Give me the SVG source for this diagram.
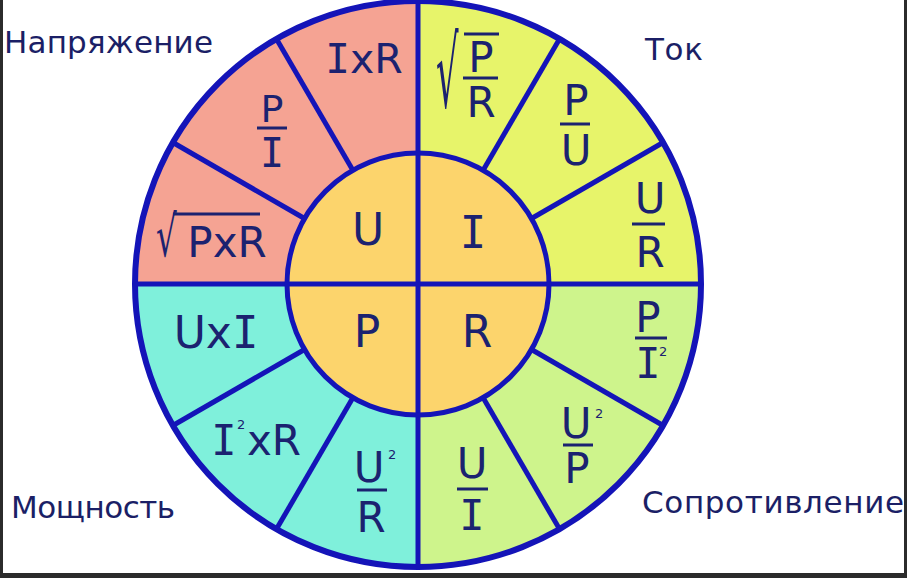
<svg xmlns="http://www.w3.org/2000/svg" width="907" height="578" viewBox="0 0 907 578">
<style>
.t{font-family:"DejaVu Sans","Liberation Sans",sans-serif;fill:#1b2270;text-anchor:middle}
.i{font-family:"DejaVu Sans Mono","Liberation Mono",monospace}
.lbl{font-family:"DejaVu Sans","Liberation Sans",sans-serif;fill:#1b1f66;font-size:31px}
.big{font-size:44px}
.fr{font-size:42px}
.sup{font-family:"DejaVu Sans","Liberation Sans",sans-serif;fill:#1b2270;font-size:13px}
.ln{stroke:#1414b8;stroke-width:5;fill:none;stroke-linecap:butt}
.bar{stroke:#1b2270;stroke-width:3}
.rad{font-family:"DejaVu Sans","Liberation Sans",sans-serif;fill:#1b2270;font-size:57px}
</style>
<rect x="0" y="0" width="907" height="578" fill="#ffffff"/>
<g id="wheel">
<path d="M418,284 L135,284 A283,283 0 0 1 418,1 Z" fill="#f5a393"/>
<path d="M418,284 L418,1 A283,283 0 0 1 701,284 Z" fill="#e7f46a"/>
<path d="M418,284 L701,284 A283,283 0 0 1 418,567 Z" fill="#cef48c"/>
<path d="M418,284 L418,567 A283,283 0 0 1 135,284 Z" fill="#7ff0db"/>
<circle cx="418" cy="284" r="131" fill="#fcd46c"/>
</g>
<g id="connectors" class="ln">
<line x1="353" y1="170.5" x2="276.5" y2="38.9"/>
<line x1="304.5" y1="218.5" x2="172.9" y2="142.5"/>
<line x1="483" y1="170.5" x2="559.5" y2="38.9"/>
<line x1="531.5" y1="218.5" x2="663.1" y2="142.5"/>
<line x1="483" y1="397.5" x2="559.5" y2="529.1"/>
<line x1="531.5" y1="349.5" x2="663.1" y2="425.5"/>
<line x1="353" y1="397.5" x2="276.5" y2="529.1"/>
<line x1="304.5" y1="349.5" x2="172.9" y2="425.5"/>
<line x1="418" y1="1" x2="418" y2="567"/>
<line x1="135" y1="284" x2="701" y2="284"/>
<circle cx="418" cy="284" r="131"/>
<circle cx="418" cy="284" r="283" stroke-width="6"/>
</g>
<g id="node-U"><text class="t big" x="368" y="245">U</text></g>
<g id="node-I"><text class="t big i" x="473" y="248">I</text></g>
<g id="node-P"><text class="t big" x="367" y="347">P</text></g>
<g id="node-R"><text class="t big" x="477" y="347">R</text></g>
<g id="node-IxR"><text class="t" font-size="41" x="364" y="73"><tspan class="i">I</tspan>xR</text></g>
<g id="node-P-over-I">
<text class="t" font-size="38" x="272" y="122">P</text>
<line class="bar" x1="257" y1="128" x2="287" y2="128"/>
<text class="t i" font-size="40" x="272" y="167">I</text>
</g>
<g id="node-sqrt-PxR">
<text class="rad" transform="translate(156,256) scale(0.57,1)">√</text>
<line class="bar" x1="173" y1="214" x2="260" y2="214"/>
<text class="t" font-size="42" x="227" y="257">PxR</text>
</g>
<g id="node-sqrt-P-over-R">
<text class="rad" transform="translate(436,107) scale(0.62,1.71)">√</text>
<line class="bar" x1="464" y1="34" x2="499" y2="34"/>
<text class="t fr" x="481" y="72">P</text>
<line class="bar" x1="463" y1="78" x2="498" y2="78"/>
<text class="t fr" x="481" y="117">R</text>
</g>
<g id="node-P-over-U">
<text class="t fr" x="576" y="115">P</text>
<line class="bar" x1="560" y1="124" x2="590" y2="124"/>
<text class="t fr" x="576" y="165">U</text>
</g>
<g id="node-U-over-R">
<text class="t fr" x="650" y="213">U</text>
<line class="bar" x1="632" y1="224" x2="665" y2="224"/>
<text class="t fr" x="650" y="267">R</text>
</g>
<g id="node-P-over-I2">
<text class="t fr" x="648" y="332">P</text>
<line class="bar" x1="635" y1="338" x2="667" y2="338"/>
<text class="t fr i" x="648" y="378">I</text>
<text class="sup" x="659" y="356">2</text>
</g>
<g id="node-U2-over-P">
<text class="t fr" x="576" y="438">U</text>
<text class="sup" x="595" y="418">2</text>
<line class="bar" x1="563" y1="445" x2="593" y2="445"/>
<text class="t fr" x="577" y="483">P</text>
</g>
<g id="node-U-over-I">
<text class="t fr" x="472" y="478">U</text>
<line class="bar" x1="457" y1="489" x2="488" y2="489"/>
<text class="t fr i" x="472" y="530">I</text>
</g>
<g id="node-U2-over-R">
<text class="t fr" x="369" y="482">U</text>
<text class="sup" x="388" y="459">2</text>
<line class="bar" x1="357" y1="490" x2="387" y2="490"/>
<text class="t fr" x="371" y="532">R</text>
</g>
<g id="node-I2xR">
<text class="t i" font-size="42" x="224" y="455">I</text>
<text class="sup" x="237" y="429">2</text>
<text class="t" font-size="42" x="274" y="455">xR</text>
</g>
<g id="node-UxI"><text class="t big" x="216" y="348">Ux<tspan class="i">I</tspan></text></g>
<g id="labels">
<text class="lbl" x="4" y="53" textLength="209">Напряжение</text>
<text class="lbl" x="645" y="60" textLength="58">Ток</text>
<text class="lbl" x="11" y="518" textLength="164">Мощность</text>
<text class="lbl" x="642" y="513" textLength="262">Сопротивление</text>
</g>
<g id="frame" fill="#2b2b2b">
<rect x="0" y="0" width="3" height="578"/>
<rect x="904" y="0" width="3" height="578"/>
<rect x="0" y="573" width="907" height="5"/>
</g>
</svg>
